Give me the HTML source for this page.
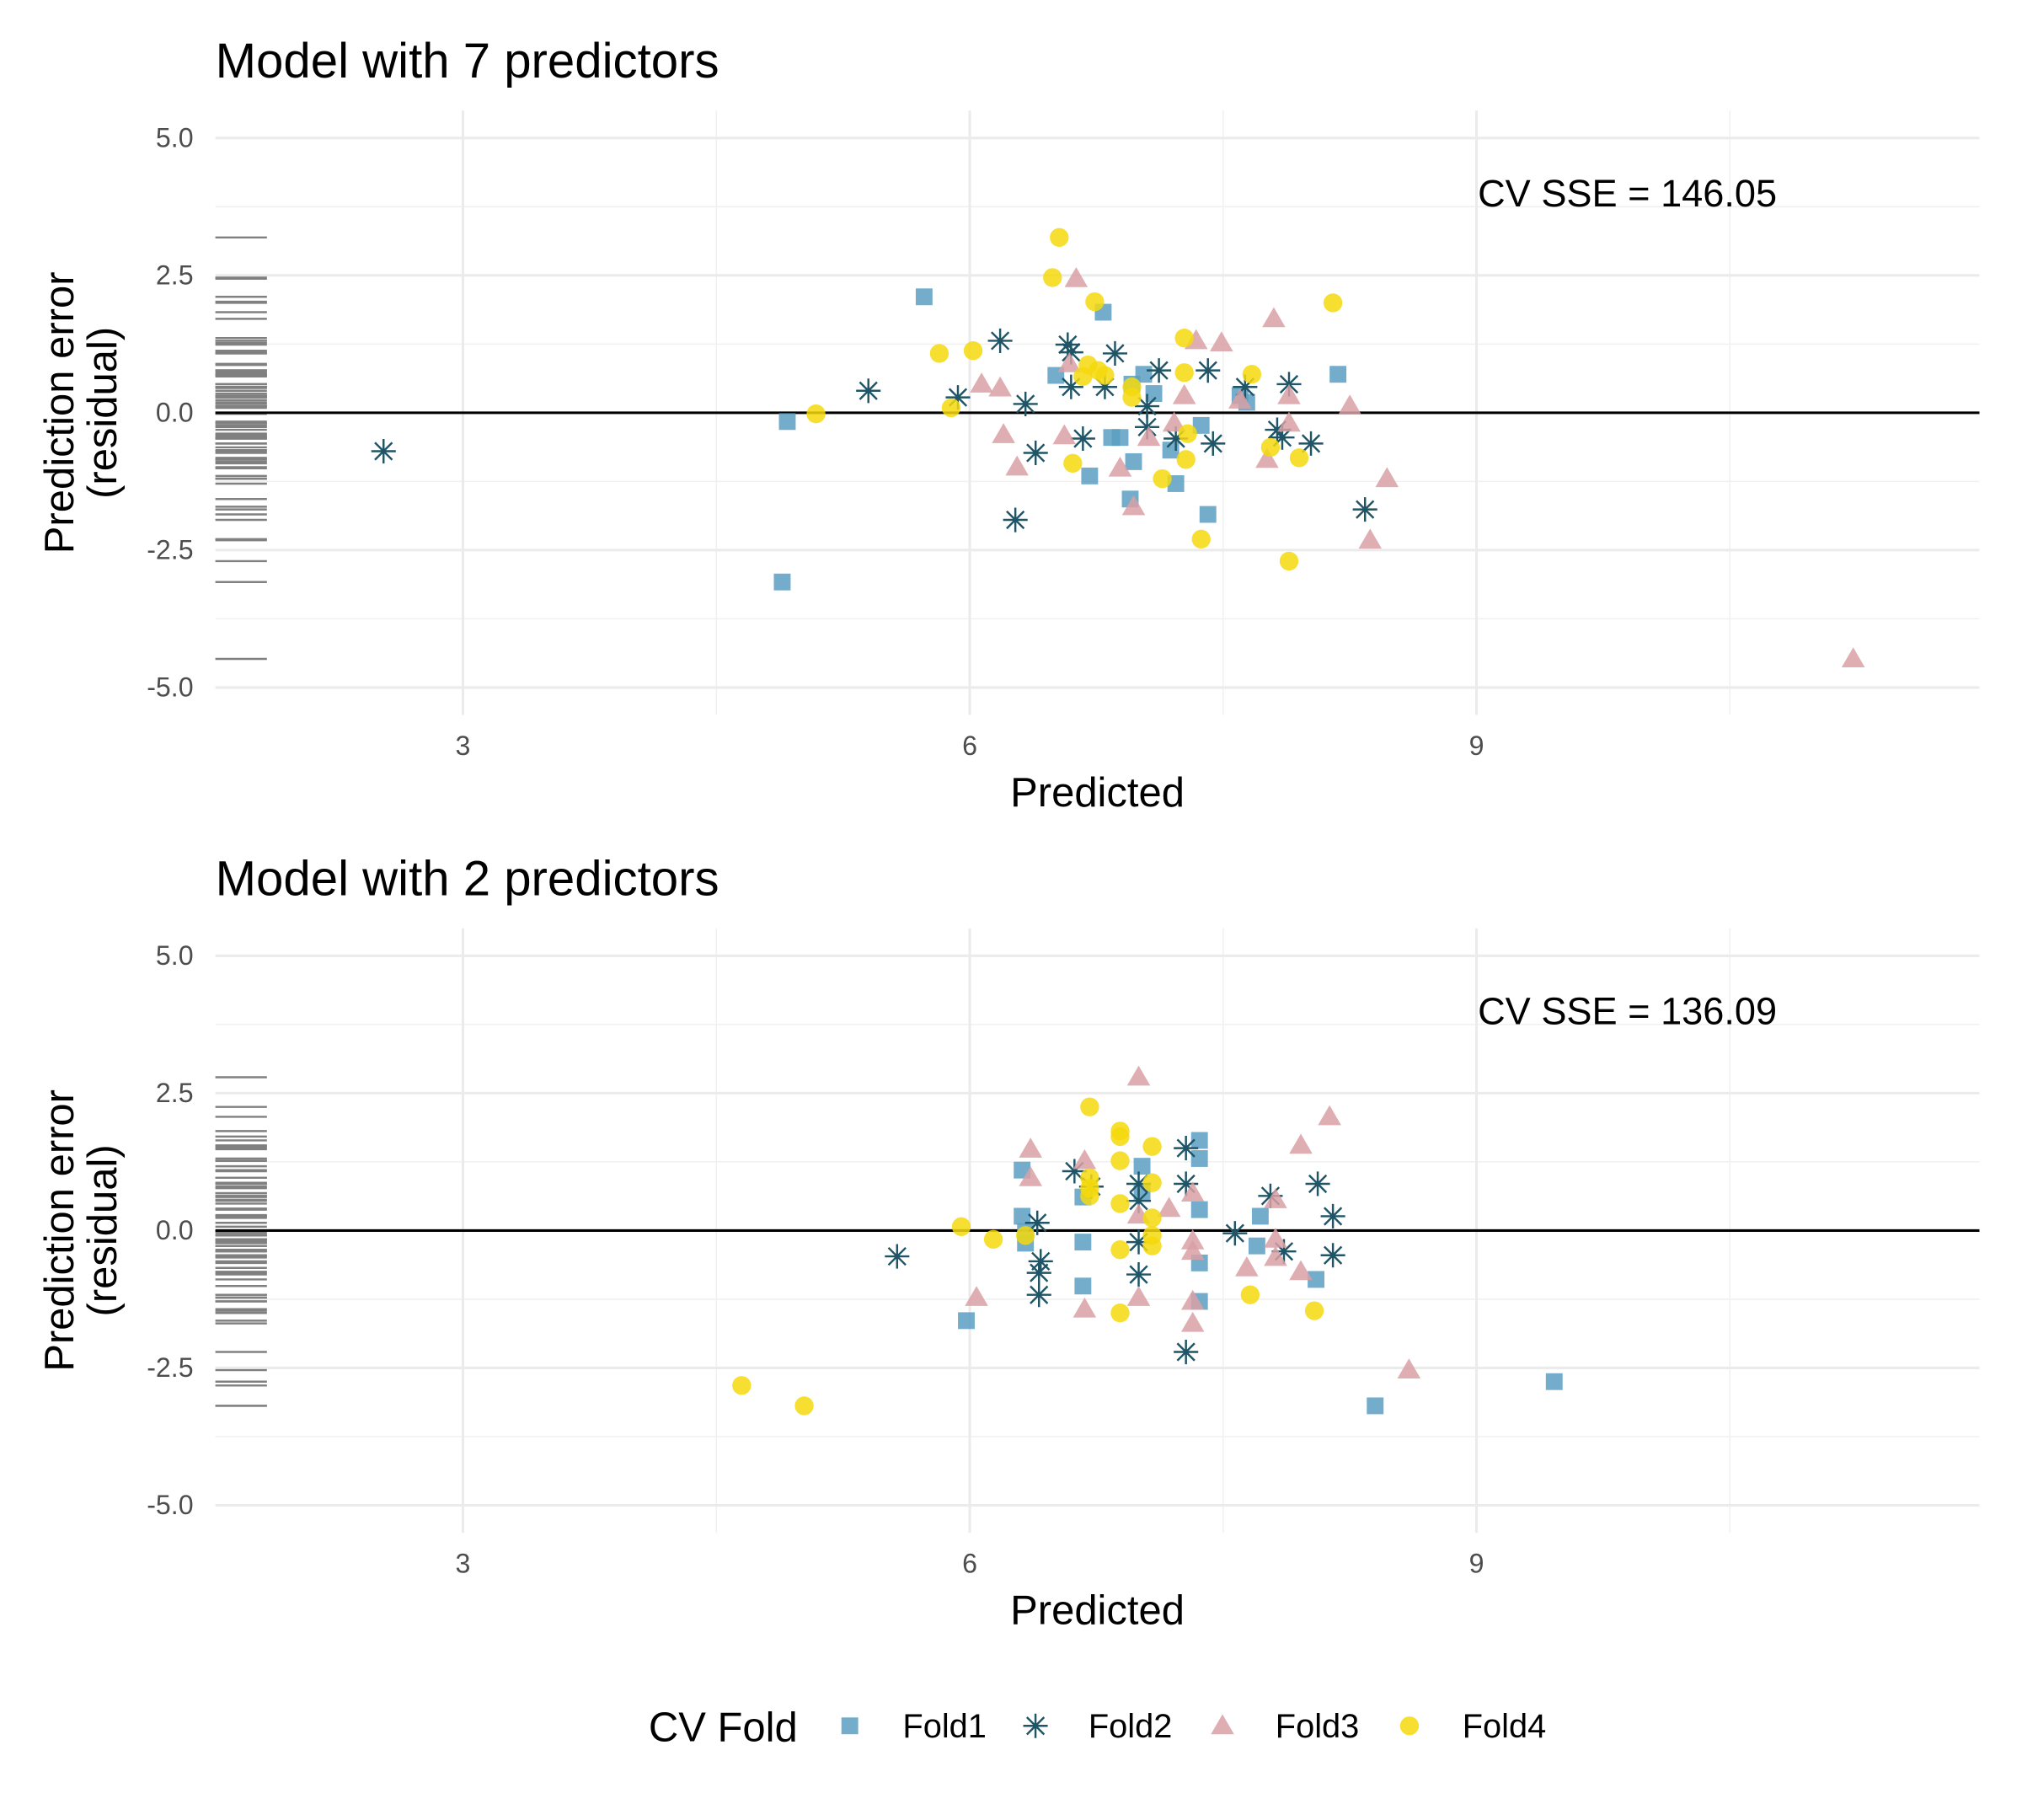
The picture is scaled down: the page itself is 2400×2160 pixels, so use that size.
<!DOCTYPE html>
<html><head><meta charset="utf-8"><style>
html,body{margin:0;padding:0;background:#fff}
svg{display:block;font-family:"Liberation Sans",sans-serif}
</style></head><body>
<svg id="chart" width="2400" height="2160" viewBox="0 0 1568 1411" preserveAspectRatio="none" xmlns="http://www.w3.org/2000/svg">
<rect width="1568" height="1411" fill="#fff"/>
</svg>
<script>
// ---- data (predicted, residual) per fold ----
const xTicks=[3,6,9];
const yTicks=[5,2.5,0,-2.5,-5];
const yTickLabels=["5.0","2.5","0.0","-2.5","-5.0"];
const panelTitles=["Model with 7 predictors","Model with 2 predictors"];
const sseLabels=["CV SSE = 146.05","CV SSE = 136.09"];
const foldNames=["Fold1","Fold2","Fold3","Fold4"];
const top1X=[5.73,4.92,4.89,6.51,6.79,6.84,6.89,6.71,6.95,6.97,6.96,7.03,7.09,7.19,7.22,7.37,7.41,7.60,7.64,8.18];
const top1Y=[2.11,-0.16,-3.08,0.68,1.83,-0.45,-0.45,-1.15,-1.57,-0.89,0.52,0.70,0.35,-0.68,-1.29,-0.23,-1.85,0.31,0.19,0.70];
const top2X=[2.53,5.40,5.93,6.18,6.33,6.27,6.39,6.58,6.60,6.60,6.67,6.80,6.86,7.05,7.05,7.12,7.22,7.41,7.44,7.63,7.82,7.85,7.89,8.02,8.34];
const top2Y=[-0.70,0.40,0.28,1.31,0.16,-1.95,-0.73,1.24,1.10,0.47,-0.47,0.47,1.08,-0.26,0.12,0.77,-0.47,0.77,-0.56,0.47,-0.31,-0.45,0.52,-0.56,-1.76];
const top3X=[6.07,6.18,6.20,6.28,6.56,6.59,6.63,6.89,6.97,7.06,7.21,7.27,7.34,7.49,7.60,7.76,7.80,7.89,7.89,8.25,8.37,8.47,11.23];
const top3Y=[0.52,0.45,-0.40,-0.99,-0.42,0.89,2.44,-1.01,-1.71,-0.45,-0.19,0.31,1.31,1.27,0.23,-0.85,1.71,-0.19,0.31,0.12,-2.32,-1.20,-4.48];
const top4X=[5.09,5.82,6.02,5.89,6.53,6.49,6.74,6.70,6.67,6.76,6.80,6.61,6.96,6.96,7.27,7.27,7.29,7.28,7.14,7.37,7.67,7.78,7.89,7.95,8.15];
const top4Y=[-0.02,1.08,1.13,0.09,3.19,2.46,2.02,0.87,0.66,0.77,0.68,-0.92,0.47,0.28,1.36,0.73,-0.38,-0.85,-1.20,-2.30,0.70,-0.63,-2.70,-0.82,2.00];
const bot1X=[5.98,6.31,6.31,6.33,6.33,6.67,6.67,6.67,7.02,7.02,7.36,7.36,7.36,7.36,7.36,7.72,7.70,8.05,8.40,9.46];
const bot1Y=[-1.64,1.10,0.26,-0.02,-0.23,0.61,-0.21,-1.01,1.17,0.68,1.64,1.31,0.38,-0.59,-1.29,0.26,-0.28,-0.89,-3.19,-2.75];
const bot2X=[5.57,6.40,6.42,6.41,6.41,6.62,6.72,7.00,7.00,7.00,7.00,7.28,7.28,7.28,7.57,7.78,7.86,8.06,8.15,8.15];
const bot2Y=[-0.47,0.14,-0.56,-0.77,-1.17,1.08,0.80,0.85,0.54,-0.21,-0.80,1.50,0.85,-2.21,-0.05,0.63,-0.38,0.85,0.26,-0.45];
const bot3X=[6.04,6.36,6.36,6.68,6.68,7.00,7.00,7.00,7.18,7.32,7.32,7.32,7.32,7.32,7.64,7.81,7.81,7.81,7.96,7.96,8.13,8.60];
const bot3Y=[-1.22,1.48,0.96,1.27,-1.43,2.79,0.28,-1.22,0.40,0.68,-0.19,-0.38,-1.29,-1.69,-0.68,0.56,-0.16,-0.49,-0.75,1.55,2.07,-2.54];
const bot4X=[4.65,5.02,5.95,6.14,6.33,6.71,6.71,6.71,6.71,6.89,6.89,6.89,6.89,6.89,6.89,7.08,7.08,7.08,7.08,7.08,7.66,8.04];
const bot4Y=[-2.82,-3.19,0.07,-0.16,-0.09,2.25,0.96,0.77,0.63,1.81,1.71,1.27,0.49,-0.35,-1.50,1.53,0.87,0.23,-0.09,-0.28,-1.17,-1.46];

const NS="http://www.w3.org/2000/svg";
const svg=document.getElementById('chart');
function mk(tag,attrs,parent){const e=document.createElementNS(NS,tag);for(const k in attrs)e.setAttribute(k,attrs[k]);(parent||svg).appendChild(e);return e;}
const X0=167,X1=1535;
const xs=v=>359+(v-3)*131;
const colors=["#5b9fc2","#1f5566","#d9a0a6","#f4d90d"];

function marker(g,f,cx,cy){
  let e;
  if(f===0){e=mk('rect',{x:cx-6.5,y:cy-6.5,width:13,height:13,fill:colors[0],'fill-opacity':0.85},g);}
  else if(f===1){e=mk('path',{d:`M${cx-9.5},${cy}H${cx+9.5}M${cx},${cy-9.5}V${cy+9.5}M${cx-6.7},${cy-6.7}L${cx+6.7},${cy+6.7}M${cx-6.7},${cy+6.7}L${cx+6.7},${cy-6.7}`,stroke:colors[1],'stroke-width':1.6,fill:'none'},g);}
  else if(f===2){e=mk('path',{d:`M${cx},${cy-9}L${cx+9},${cy+6.5}L${cx-9},${cy+6.5}Z`,fill:colors[2],'fill-opacity':0.85},g);}
  else {e=mk('circle',{cx:cx,cy:cy,r:7.3,fill:colors[3],'fill-opacity':0.85},g);}
  return e;
}

function panel(idx,y0,XS,YS){
  const ys=v=>y0-v*42.6;
  const g=mk('g',{});
  
  
  [1.5,4.5,7.5,10.5].forEach(v=>{const px=xs(v);if(px>X0&&px<X1)mk('line',{x1:px,x2:px,y1:ys(5.5),y2:ys(-5.5),stroke:'#f0f0f0','stroke-width':1},g);});
  [3.75,1.25,-1.25,-3.75].forEach(v=>mk('line',{x1:X0,x2:X1,y1:ys(v),y2:ys(v),stroke:'#f0f0f0','stroke-width':1},g));
  xTicks.forEach(v=>mk('line',{x1:xs(v),x2:xs(v),y1:ys(5.5),y2:ys(-5.5),stroke:'#ebebeb','stroke-width':2},g));
  yTicks.forEach(v=>mk('line',{x1:X0,x2:X1,y1:ys(v),y2:ys(v),stroke:'#ebebeb','stroke-width':2},g));
  xTicks.forEach(v=>{const t=mk('text',{x:xs(v),y:ys(-5.5)+31,'text-anchor':'middle','font-size':21,fill:'#4d4d4d'},g);t.textContent=v;});
  yTicks.forEach((v,i)=>{const t=mk('text',{x:150,y:ys(v)+7,'text-anchor':'end','font-size':21,fill:'#4d4d4d'},g);t.textContent=yTickLabels[i];});
  const allY=[].concat(...YS);
  allY.forEach(v=>{const r=mk('line',{x1:X0,x2:207,y1:ys(v),y2:ys(v),stroke:'#808080','stroke-width':1.6},g);});
  const z=mk('line',{x1:X0,x2:X1,y1:ys(0),y2:ys(0),stroke:'#000','stroke-width':2},g);
  
  for(let f=0;f<4;f++){
    for(let i=0;i<XS[f].length;i++){
      const m=marker(g,f,xs(XS[f][i]),ys(YS[f][i]));
      
      
    }
  }
  const t=mk('text',{x:167,y:y0-260,'font-size':38,fill:'#000'},g);t.textContent=panelTitles[idx];
  
  const s=mk('text',{x:1146,y:y0-160,'font-size':29.5,fill:'#000'},g);s.textContent=sseLabels[idx];
  
  const xl=mk('text',{x:851,y:y0+305,'text-anchor':'middle','font-size':32,fill:'#000'},g);xl.textContent='Predicted';
  
  const yl=mk('text',{transform:`translate(57,${y0}) rotate(-90)`,'text-anchor':'middle','font-size':32,fill:'#000'},g);yl.textContent='Prediction error';
  
  const yl2=mk('text',{transform:`translate(90,${y0}) rotate(-90)`,'text-anchor':'middle','font-size':32,fill:'#000'},g);yl2.textContent='(residual)';
  
}
panel(0,320,[top1X,top2X,top3X,top4X],[top1Y,top2Y,top3Y,top4Y]);
panel(1,954,[bot1X,bot2X,bot3X,bot4X],[bot1Y,bot2Y,bot3Y,bot4Y]);

const lg=mk('g',{});


const lt=mk('text',{x:503,y:1350,'font-size':32,fill:'#000'},lg);lt.textContent='CV Fold';

const lx=[659,803,948,1093];
for(let f=0;f<4;f++){
  const m=marker(lg,f,lx[f],1338);
  
  
  const t=mk('text',{x:lx[f]+41,y:1347,'font-size':26,fill:'#000'},lg);t.textContent=foldNames[f];
  
}
</script>
</body></html>
